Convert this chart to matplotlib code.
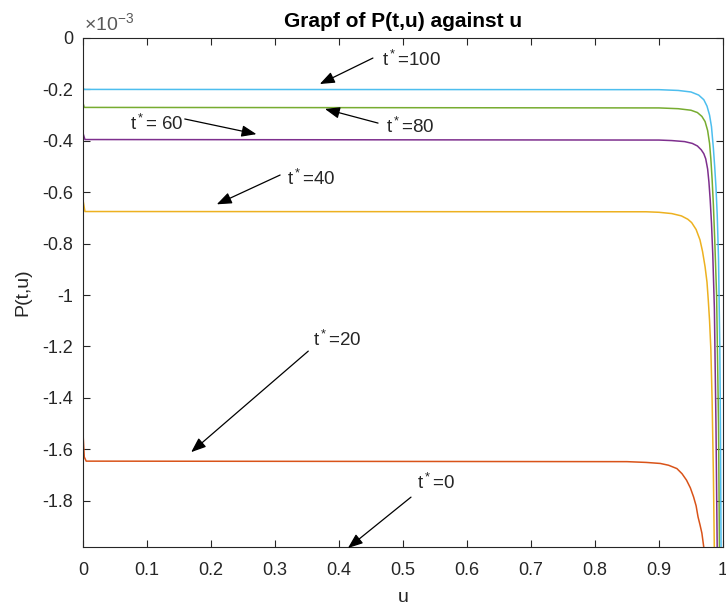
import matplotlib
matplotlib.use("Agg")
import matplotlib.pyplot as plt

plt.rcParams['font.family'] = ['Liberation Sans', 'DejaVu Sans']
plt.rcParams['axes.unicode_minus'] = False
plt.rcParams['mathtext.fontset'] = 'custom'
plt.rcParams['mathtext.rm'] = 'Liberation Sans'
plt.rcParams['mathtext.it'] = 'Liberation Sans'

# ---- data (P values in units of 1e-3) ----
u_20 = [0, 0.002, 0.005, 0.85, 0.88, 0.902, 0.915, 0.928, 0.936, 0.943, 0.949,
        0.954, 0.958, 0.961, 0.964, 0.967, 0.971]
p_20 = [-1.537, -1.63, -1.646, -1.648, -1.651, -1.655, -1.662, -1.675, -1.695, -1.72, -1.75,
        -1.785, -1.82, -1.863, -1.893, -1.926, -2.0]

u_40 = [0, 0.003, 0.88, 0.90, 0.92, 0.935, 0.945, 0.951, 0.958, 0.964, 0.968, 0.972,
        0.975, 0.977, 0.979, 0.981, 0.983, 0.985, 0.9865]
p_40 = [-0.63, -0.675, -0.676, -0.678, -0.683, -0.692, -0.705, -0.718, -0.745, -0.785, -0.83, -0.89,
        -0.95, -1.02, -1.10, -1.21, -1.41, -1.7, -2.0]

u_60 = [0, 0.003, 0.9, 0.92, 0.94, 0.952, 0.96, 0.966, 0.97, 0.973, 0.976, 0.978, 0.98,
        0.982, 0.984, 0.9865, 0.989, 0.991]
p_60 = [-0.37, -0.395, -0.397, -0.399, -0.403, -0.41, -0.42, -0.435, -0.45, -0.47, -0.51, -0.56, -0.63,
        -0.72, -0.84, -1.05, -1.5, -2.0]

u_80 = [0, 0.002, 0.9, 0.93, 0.95, 0.96, 0.967, 0.972, 0.976, 0.979, 0.981, 0.983, 0.985,
        0.987, 0.99, 0.993, 0.9945]
p_80 = [-0.253, -0.270, -0.272, -0.275, -0.281, -0.29, -0.305, -0.325, -0.36, -0.41, -0.47, -0.55, -0.65,
        -0.78, -1.0, -1.5, -2.0]

u_100 = [0, 0.002, 0.9, 0.93, 0.95, 0.962, 0.97, 0.975, 0.979, 0.982, 0.985, 0.987, 0.989,
         0.991, 0.993, 0.995, 0.996, 0.997]
p_100 = [-0.195, -0.200, -0.201, -0.204, -0.21, -0.222, -0.24, -0.265, -0.30, -0.345, -0.43, -0.50, -0.58,
         -0.69, -0.86, -1.2, -1.5, -2.0]

series = [
    (u_20, p_20, (0.850, 0.325, 0.098)),
    (u_40, p_40, (0.929, 0.694, 0.125)),
    (u_60, p_60, (0.494, 0.184, 0.556)),
    (u_80, p_80, (0.466, 0.674, 0.188)),
    (u_100, p_100, (0.301, 0.745, 0.933)),
]

# annotations: label, text position (u, P e-3), arrow tail, arrow head
annotations = [
    ('100', (0.467, -0.086), (0.453, -0.078), (0.370, -0.179)),
    ('80', (0.473, -0.346), (0.461, -0.331), (0.378, -0.276)),
    (' 60', (0.074, -0.336), (0.159, -0.315), (0.271, -0.374)),
    ('40', (0.318, -0.549), (0.308, -0.533), (0.209, -0.647)),
    ('20', (0.359, -1.175), (0.352, -1.218), (0.169, -1.611)),
    ('0', (0.522, -1.732), (0.5125, -1.786), (0.414, -1.984)),
]

xticks = [0, 0.1, 0.2, 0.3, 0.4, 0.5, 0.6, 0.7, 0.8, 0.9, 1.0]
yticks = [0, -0.2, -0.4, -0.6, -0.8, -1.0, -1.2, -1.4, -1.6, -1.8]

S = 1e-3
dark = (0.15, 0.15, 0.15)

fig = plt.figure(figsize=(7.26, 6.12), dpi=100)
ax = fig.add_axes([83/726, 1 - 547/612, 640/726, (547 - 38)/612])

for u, p, c in series:
    ax.plot(u, [v * S for v in p], color=c, lw=1.1, solid_joinstyle='round')

ax.set_xlim(0, 1)
ax.set_ylim(-1.98e-3, 0)
ax.set_xticks(xticks)
ax.set_xticklabels([f'{t:g}' for t in xticks])
ax.set_yticks([t * S for t in yticks])
ax.set_yticklabels([f'{t:g}' for t in yticks])

ax.tick_params(direction='in', length=5, width=0.8, colors=dark, labelsize=13,
               top=True, right=True)
ax.tick_params(axis='x', pad=11)
ax.tick_params(axis='y', pad=7)
for sp in ax.spines.values():
    sp.set_color(dark)
    sp.set_linewidth(0.8)

fig.text(84/726, 1 - 23/612, r'$\times\mathregular{10^{-3}}$', fontsize=14,
         color=(0.35, 0.35, 0.35), ha='left', va='center')

ax.set_title('Grapf of P(t,u) against u', fontsize=15, fontweight='bold',
             color='black', pad=8)
ax.set_xlabel('u', fontsize=14, color=dark, labelpad=7)
ax.set_ylabel('P(t,u)', fontsize=14, color=dark, labelpad=8)

for lab, tpos, tail, head in annotations:
    ax.annotate('', xy=(head[0], head[1] * S), xytext=(tail[0], tail[1] * S),
                annotation_clip=False,
                arrowprops=dict(arrowstyle='-|>,head_length=0.9,head_width=0.35',
                                color='black', lw=0.9, shrinkA=0, shrinkB=0))
    ax.text(tpos[0], tpos[1] * S, r'$\mathregular{t^*}$=' + lab, fontsize=13.5,
            color=dark, ha='left', va='center')

fig.savefig('out.png', dpi=100)
